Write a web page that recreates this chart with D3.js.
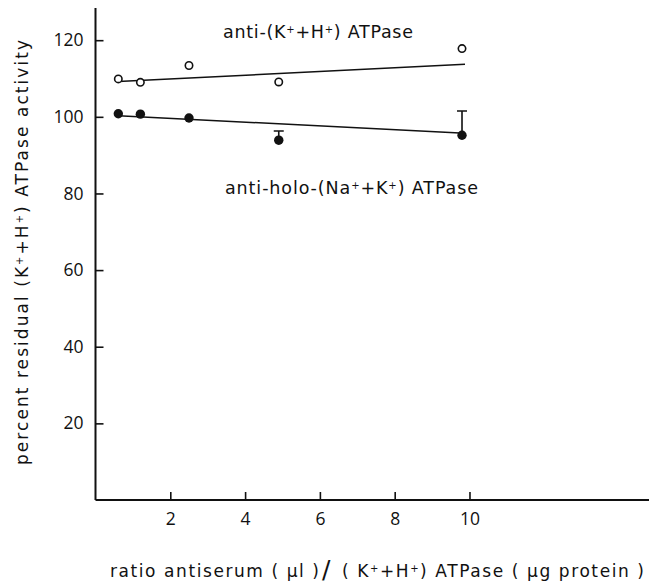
<!DOCTYPE html>
<html>
<head>
<meta charset="utf-8">
<script src="https://cdn.jsdelivr.net/npm/d3@7"></script>
<style>
  body { margin: 0; background: #fff; }
  text { font-family: "DejaVu Sans", sans-serif; fill: #111; }
</style>
</head>
<body>
<script>
var width = 649,
  height = 583;

// data
var ratio = [0.61, 1.2, 2.5, 4.9, 9.8];
var antiKH = [109.9, 109.0, 113.4, 109.1, 117.8];
var antiHolo = [100.8, 100.7, 99.7, 93.9, 95.2];
var antiHoloErr = [0, 0, 0, 2.4, 6.3];
var fitKH = [[0.61, 109.2], [9.88, 113.7]];
var fitHolo = [[0.61, 100.3], [9.74, 95.8]];
var xTicks = [2, 4, 6, 8, 10];
var yTicks = [20, 40, 60, 80, 100, 120];

var svg = d3.select("body").append("svg")
  .attr("width", width)
  .attr("height", height);

var xMax = 14.8, yMax = 128.4;
var x = d3.scaleLinear().domain([0, xMax]).range([95.5, 649]);
var y = d3.scaleLinear().domain([0, yMax]).range([500, 8]);

// axes
var xAxis = d3.axisBottom(x).tickValues(xTicks).tickSize(-8).tickPadding(13).tickFormat(d3.format("d"));
var yAxis = d3.axisLeft(y).tickValues(yTicks).tickSize(-8).tickPadding(12).tickFormat(d3.format("d"));

var gx = svg.append("g").attr("transform", "translate(0," + y(0) + ")").call(xAxis);
var gy = svg.append("g").attr("transform", "translate(" + x(0) + ",0)").call(yAxis);

[gx, gy].forEach(function (g) {
  g.select(".domain").attr("stroke", "#111").attr("stroke-width", 2);
  g.selectAll(".tick line").attr("stroke", "#111").attr("stroke-width", 1.6);
  g.selectAll(".tick text").style("font-size", "17.5px").style("fill", "#111")
    .style("font-family", "'Open Sans', sans-serif");
});
// the printed axes have no end ticks, replace domain paths by plain lines
gx.select(".domain").attr("d", "M" + x(0) + ",0H" + x(xMax));
gy.select(".domain").attr("d", "M0," + y(0) + "V" + y(yMax));

// fitted lines
var line = d3.line().x(function (d) { return x(d[0]); }).y(function (d) { return y(d[1]); });
[fitKH, fitHolo].forEach(function (f) {
  svg.append("path").datum(f).attr("d", line)
    .attr("fill", "none").attr("stroke", "#111").attr("stroke-width", 1.5);
});

// error bars (upper only)
var errs = ratio.map(function (r, i) { return { x: r, y: antiHolo[i], e: antiHoloErr[i] }; })
  .filter(function (d) { return d.e > 0; });
svg.selectAll(".err").data(errs).enter().append("path")
  .attr("class", "err")
  .attr("d", function (d) {
    return "M" + x(d.x) + "," + y(d.y) + "V" + y(d.y + d.e) +
      "M" + (x(d.x) - 5) + "," + y(d.y + d.e) + "H" + (x(d.x) + 5);
  })
  .attr("fill", "none").attr("stroke", "#111").attr("stroke-width", 1.6);

// points
svg.selectAll(".open").data(ratio).enter().append("circle")
  .attr("cx", function (d) { return x(d); })
  .attr("cy", function (d, i) { return y(antiKH[i]); })
  .attr("r", 3.7)
  .attr("fill", "#fff").attr("stroke", "#111").attr("stroke-width", 1.6);

svg.selectAll(".filled").data(ratio).enter().append("circle")
  .attr("cx", function (d) { return x(d); })
  .attr("cy", function (d, i) { return y(antiHolo[i]); })
  .attr("r", 4.7)
  .attr("fill", "#111");

// text helpers
function sup(t, s) {
  t.append("tspan").text(s).attr("baseline-shift", "super").style("font-size", "10px");
}
function label(t, parts) {
  parts.forEach(function (p, i) {
    if (i % 2 === 1) sup(t, p); else t.append("tspan").text(p);
  });
  return t;
}

// series labels
label(svg.append("text").attr("x", 223).attr("y", 38).attr("textLength", 190).style("font-size", "17.5px"),
  ["anti-(K", "+", "+H", "+", ") ATPase"]);
label(svg.append("text").attr("x", 225).attr("y", 194).attr("textLength", 253).style("font-size", "17.5px"),
  ["anti-holo-(Na", "+", "+K", "+", ") ATPase"]);

// y title
label(svg.append("text")
  .attr("transform", "translate(28,465) rotate(-90)")
  .attr("textLength", 425)
  .style("font-size", "17px"),
  ["percent residual (K", "+", "+H", "+", ") ATPase activity"]);

// x title, in three pieces around the large slash
label(svg.append("text").attr("x", 110).attr("y", 577).attr("textLength", 209).style("font-size", "17px"),
  ["ratio antiserum ( \u03bcl )"]);
svg.append("text").attr("x", 322).attr("y", 578).style("font-size", "25px").text("/");
label(svg.append("text").attr("x", 342).attr("y", 577).attr("textLength", 302).style("font-size", "17px"),
  ["( K", "+", "+H", "+", ") ATPase ( \u03bcg protein )"]);
</script>
</body>
</html>
